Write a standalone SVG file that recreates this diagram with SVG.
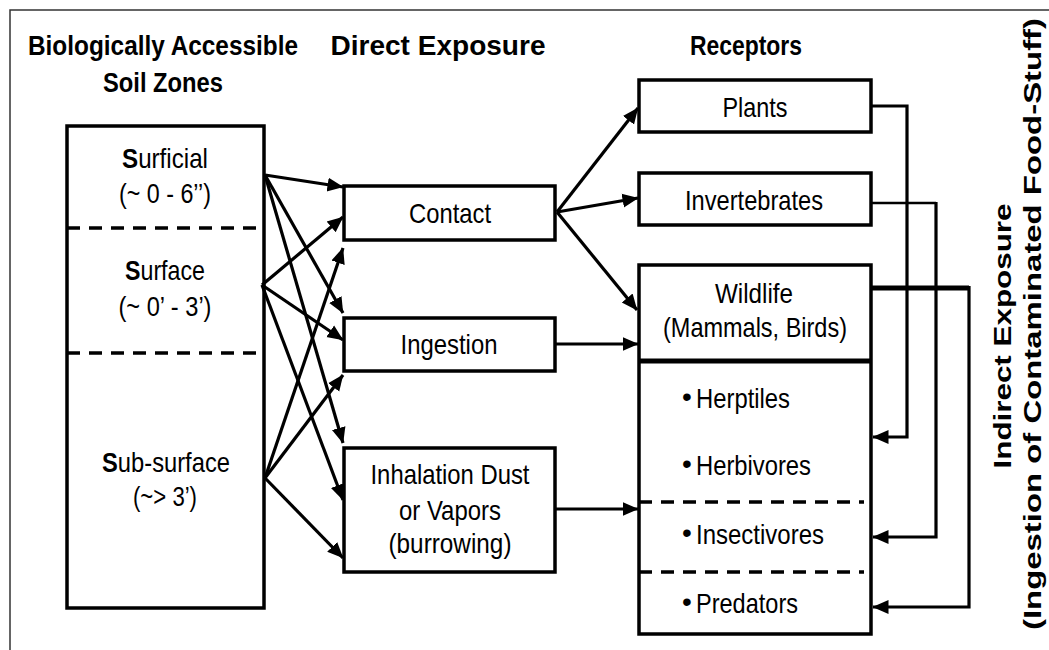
<svg xmlns="http://www.w3.org/2000/svg" width="1049" height="650" viewBox="0 0 1049 650">
<defs>
<style>
.t{font-family:"Liberation Sans Narrow","Liberation Sans",Arial,sans-serif;font-size:28px;fill:#000;text-anchor:middle}
.h{font-weight:bold;font-size:28px}
.l{text-anchor:start}
.v{font-family:"Liberation Sans",Arial,sans-serif;font-weight:bold;font-size:24px;fill:#000;text-anchor:middle}
.box{fill:#fff;stroke:#000;stroke-width:3.5}
.dash{stroke:#000;stroke-width:3.5;stroke-dasharray:13 9;fill:none}
.c{stroke:#000;stroke-width:3.2;fill:none;marker-end:url(#ah)}
.frame{stroke:#333;stroke-width:1.5;fill:none}
</style>
<marker id="ah" markerUnits="userSpaceOnUse" markerWidth="16" markerHeight="16" viewBox="0 0 16 16" refX="15.5" refY="8" orient="auto">
<path d="M0,1 L16,8 L0,15 z" fill="#000"/>
</marker>
</defs>
<rect width="1049" height="650" fill="#fff"/>
<path class="frame" d="M10,650 V10 H1049"/>

<g id="headers">
<text class="t h" x="163" y="55" textLength="270" lengthAdjust="spacingAndGlyphs">Biologically Accessible</text>
<text class="t h" x="163" y="92" textLength="120" lengthAdjust="spacingAndGlyphs">Soil Zones</text>
<text class="t h" x="438" y="55" textLength="215" lengthAdjust="spacingAndGlyphs">Direct Exposure</text>
<text class="t h" x="746" y="55" textLength="112" lengthAdjust="spacingAndGlyphs">Receptors</text>
</g>

<g id="soil-zones">
<rect class="box" x="67" y="126" width="197" height="482"/>
<line class="dash" x1="67" y1="228" x2="264" y2="228"/>
<line class="dash" x1="67" y1="353" x2="264" y2="353"/>
<text class="t" x="165" y="168" textLength="86" lengthAdjust="spacingAndGlyphs"><tspan font-weight="bold">S</tspan>urficial</text>
<text class="t" x="165" y="203" textLength="92" lengthAdjust="spacingAndGlyphs">(~ 0 - 6’’)</text>
<text class="t" x="165" y="280" textLength="80" lengthAdjust="spacingAndGlyphs"><tspan font-weight="bold">S</tspan>urface</text>
<text class="t" x="165" y="316" textLength="93" lengthAdjust="spacingAndGlyphs">(~ 0’ - 3’)</text>
<text class="t" x="166" y="472" textLength="128" lengthAdjust="spacingAndGlyphs"><tspan font-weight="bold">S</tspan>ub-surface</text>
<text class="t" x="165" y="506" textLength="64" lengthAdjust="spacingAndGlyphs">(~&gt; 3’)</text>
</g>

<g id="contact">
<rect class="box" x="344" y="186" width="211" height="54"/>
<text class="t" x="450" y="223" textLength="82" lengthAdjust="spacingAndGlyphs">Contact</text>
</g>
<g id="ingestion">
<rect class="box" x="344" y="318" width="211" height="53"/>
<text class="t" x="449" y="354" textLength="97" lengthAdjust="spacingAndGlyphs">Ingestion</text>
</g>
<g id="inhalation">
<rect class="box" x="344" y="448" width="211" height="124"/>
<text class="t" x="450" y="484" textLength="159" lengthAdjust="spacingAndGlyphs">Inhalation Dust</text>
<text class="t" x="450" y="520" textLength="102" lengthAdjust="spacingAndGlyphs">or Vapors</text>
<text class="t" x="450" y="553" textLength="123" lengthAdjust="spacingAndGlyphs">(burrowing)</text>
</g>

<g id="plants">
<rect class="box" x="639" y="80" width="232" height="52"/>
<text class="t" x="755" y="117" textLength="65" lengthAdjust="spacingAndGlyphs">Plants</text>
</g>
<g id="invertebrates">
<rect class="box" x="639" y="173" width="232" height="52"/>
<text class="t" x="754" y="210" textLength="138" lengthAdjust="spacingAndGlyphs">Invertebrates</text>
</g>
<g id="wildlife">
<rect class="box" x="639" y="265" width="232" height="369"/>
<line x1="639" y1="361" x2="871" y2="361" stroke="#000" stroke-width="5"/>
<text class="t" x="754" y="303" textLength="78" lengthAdjust="spacingAndGlyphs">Wildlife</text>
<text class="t" x="755" y="337" textLength="184" lengthAdjust="spacingAndGlyphs">(Mammals, Birds)</text>
<line class="dash" x1="639" y1="502" x2="864" y2="502"/>
<line class="dash" x1="639" y1="572" x2="864" y2="572"/>
<text class="t" x="687" y="406" font-size="20">•</text>
<text class="t l" x="696" y="408" textLength="94" lengthAdjust="spacingAndGlyphs">Herptiles</text>
<text class="t" x="687" y="473" font-size="20">•</text>
<text class="t l" x="696" y="475" textLength="115" lengthAdjust="spacingAndGlyphs">Herbivores</text>
<text class="t" x="687" y="542" font-size="20">•</text>
<text class="t l" x="696" y="544" textLength="128" lengthAdjust="spacingAndGlyphs">Insectivores</text>
<text class="t" x="687" y="611" font-size="20">•</text>
<text class="t l" x="696" y="613" textLength="102" lengthAdjust="spacingAndGlyphs">Predators</text>
</g>

<g id="indirect-label">
<text class="v" transform="translate(1011,336) rotate(-90)" textLength="265" lengthAdjust="spacingAndGlyphs">Indirect Exposure</text>
<text class="v" transform="translate(1041,324) rotate(-90)" textLength="612" lengthAdjust="spacingAndGlyphs">(Ingestion of Contaminated Food-Stuff)</text>
</g>

<g id="connectors">
<line class="c" x1="265" y1="175" x2="343" y2="187"/>
<line class="c" x1="265" y1="175" x2="343" y2="313"/>
<line class="c" x1="265" y1="175" x2="343" y2="443"/>
<line class="c" x1="262" y1="285" x2="343" y2="217"/>
<line class="c" x1="262" y1="285" x2="343" y2="340"/>
<line class="c" x1="262" y1="285" x2="343" y2="500"/>
<line class="c" x1="265" y1="478" x2="343" y2="248"/>
<line class="c" x1="265" y1="478" x2="343" y2="375"/>
<line class="c" x1="265" y1="478" x2="343" y2="558"/>
<line class="c" x1="557" y1="212" x2="638" y2="108"/>
<line class="c" x1="557" y1="212" x2="638" y2="198"/>
<line class="c" x1="557" y1="212" x2="637" y2="310"/>
<line class="c" x1="555" y1="344" x2="638" y2="344"/>
<line class="c" x1="555" y1="509" x2="638" y2="509"/>
<path class="c" d="M871,106 H907 V437 H873" stroke-width="3.5"/>
<path d="M871,203 H936" stroke="#000" stroke-width="2.5" fill="none"/>
<path class="c" d="M936,202 V537 H873" stroke-width="3.5"/>
<path d="M871,288 H969" stroke="#000" stroke-width="5" fill="none"/>
<path class="c" d="M969,286 V607 H873" stroke-width="3.5"/>
</g>
</svg>
